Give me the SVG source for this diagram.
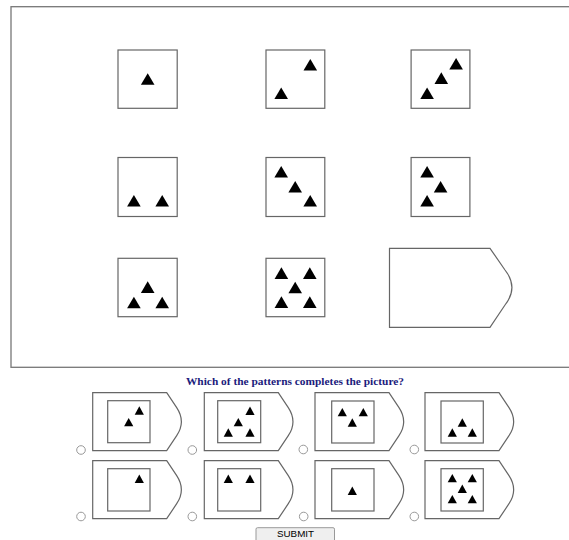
<svg xmlns="http://www.w3.org/2000/svg" xmlns:xlink="http://www.w3.org/1999/xlink" width="569" height="540" viewBox="0 0 569 540">
<style>
.frame{fill:#fff;stroke:#777;stroke-width:1.3}
.cell{fill:#fff;stroke:#666;stroke-width:1.2}
.opt{fill:#fff;stroke:#666;stroke-width:1.2}
.radio{fill:#fff;stroke:#999;stroke-width:1}
.tri{fill:#000}
.q{font-family:"Liberation Serif","Times New Roman",serif;font-weight:bold;font-size:11.4px;fill:#1c1c7c}
.btn{fill:#efefef;stroke:#999;stroke-width:1}
.btxt{font-family:"Liberation Sans",Arial,sans-serif;font-size:9.8px;fill:#000}
</style>
<defs>
<path id="t" class="tri" d="M0,-6 L6.8,5.6 L-6.8,5.6 Z"/>
<path id="s" class="tri" d="M0,-4.4 L4.6,4 L-4.6,4 Z"/>
<path id="o" class="opt" d="M0,0 H74 L84,15 C90,24 90,34 84,43 L74,58 H0 Z"/>
</defs>
<rect width="569" height="540" fill="#fff"/>
<rect id="frame" class="frame" x="11" y="6.7" width="565" height="360.6"/>

<g id="cell-1-1"><rect class="cell" x="118" y="50" width="59.2" height="58.3"/>
<use href="#t" x="147.7" y="79.2"/></g>
<g id="cell-1-2"><rect class="cell" x="266" y="50" width="58.8" height="58.3"/>
<use href="#t" x="310.3" y="65"/><use href="#t" x="281.2" y="93.5"/></g>
<g id="cell-1-3"><rect class="cell" x="411.1" y="50" width="58.8" height="58.3"/>
<use href="#t" x="456.1" y="64"/><use href="#t" x="441.3" y="78.3"/><use href="#t" x="427.1" y="93.5"/></g>

<g id="cell-2-1"><rect class="cell" x="118" y="157.5" width="59.2" height="59"/>
<use href="#t" x="133.9" y="201"/><use href="#t" x="162.2" y="201"/></g>
<g id="cell-2-2"><rect class="cell" x="266" y="157.5" width="58.8" height="59"/>
<use href="#t" x="281.2" y="172"/><use href="#t" x="295.2" y="187"/><use href="#t" x="310.2" y="201"/></g>
<g id="cell-2-3"><rect class="cell" x="411.1" y="157.5" width="58.8" height="59"/>
<use href="#t" x="427.1" y="172"/><use href="#t" x="440.6" y="187"/><use href="#t" x="427.1" y="201"/></g>

<g id="cell-3-1"><rect class="cell" x="118" y="258.3" width="59.2" height="58.4"/>
<use href="#t" x="147.7" y="287.3"/><use href="#t" x="133.9" y="302.7"/><use href="#t" x="162.2" y="302.7"/></g>
<g id="cell-3-2"><rect class="cell" x="266" y="258.3" width="58.8" height="58.4"/>
<use href="#t" x="281.4" y="273.3"/><use href="#t" x="309.8" y="273.3"/><use href="#t" x="295.2" y="287.7"/><use href="#t" x="281.4" y="302.3"/><use href="#t" x="309.8" y="302.3"/></g>
<g id="cell-3-3"><path class="cell" d="M389.5,248.3 H490 L505,270 C514.5,282 514.5,293 505,305 L490,327.3 H389.5 Z"/></g>

<text class="q" x="295" y="384.5" text-anchor="middle">Which of the patterns completes the picture?</text>

<g id="option-1"><use href="#o" x="92.7" y="392.7"/><rect class="cell" x="107.7" y="400.7" width="42.3" height="42"/>
<use href="#s" x="139.3" y="410.7"/><use href="#s" x="128.7" y="422.3"/>
<circle class="radio" cx="81" cy="450" r="4.3"/></g>
<g id="option-2"><use href="#o" x="204.3" y="392.7"/><rect class="cell" x="217.7" y="400.7" width="43" height="42"/>
<use href="#s" x="250" y="411"/><use href="#s" x="238.3" y="422.3"/><use href="#s" x="228.3" y="432.7"/><use href="#s" x="250" y="432.7"/>
<circle class="radio" cx="192.3" cy="450" r="4.3"/></g>
<g id="option-3"><use href="#o" x="315" y="392.7"/><rect class="cell" x="331.7" y="401" width="42.3" height="42"/>
<use href="#s" x="342.3" y="412.3"/><use href="#s" x="363.3" y="412.3"/><use href="#s" x="352.3" y="422.7"/>
<circle class="radio" cx="303.3" cy="449.5" r="4.3"/></g>
<g id="option-4"><use href="#o" x="425" y="392.7"/><rect class="cell" x="441" y="401" width="42.3" height="42"/>
<use href="#s" x="462.3" y="422.7"/><use href="#s" x="452.3" y="432.7"/><use href="#s" x="472.3" y="432.7"/>
<circle class="radio" cx="414.3" cy="449.5" r="4.3"/></g>

<g id="option-5"><use href="#o" x="92.7" y="460.7"/><rect class="cell" x="107.7" y="468.7" width="42.3" height="42.3"/>
<use href="#s" x="139.3" y="479"/>
<circle class="radio" cx="81" cy="516.5" r="4.3"/></g>
<g id="option-6"><use href="#o" x="204.3" y="460.7"/><rect class="cell" x="217.7" y="468.7" width="43" height="42.3"/>
<use href="#s" x="228.3" y="479"/><use href="#s" x="250" y="479"/>
<circle class="radio" cx="192.3" cy="516.5" r="4.3"/></g>
<g id="option-7"><use href="#o" x="315" y="460.7"/><rect class="cell" x="331.7" y="468.7" width="42.3" height="42.3"/>
<use href="#s" x="352.3" y="491"/>
<circle class="radio" cx="303.7" cy="516.5" r="4.3"/></g>
<g id="option-8"><use href="#o" x="425" y="460.7"/><rect class="cell" x="441" y="468.7" width="42.3" height="42.3"/>
<use href="#s" x="452.3" y="478.3"/><use href="#s" x="472.3" y="478.3"/><use href="#s" x="462.3" y="489"/><use href="#s" x="452.3" y="499.3"/><use href="#s" x="472.3" y="499.3"/>
<circle class="radio" cx="414.3" cy="516.5" r="4.3"/></g>

<g id="submit"><rect class="btn" x="256" y="527.7" width="78.5" height="16" rx="1.5"/>
<text class="btxt" x="295.5" y="537.3" text-anchor="middle">SUBMIT</text></g>
</svg>
